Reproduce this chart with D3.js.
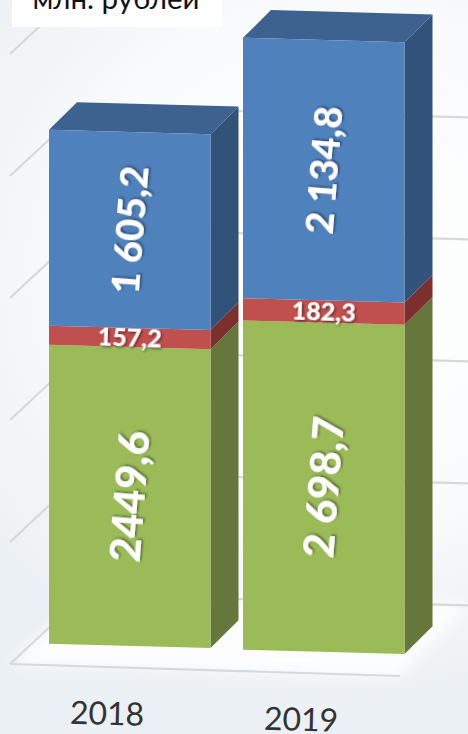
<!DOCTYPE html>
<html>
<head>
<meta charset="utf-8">
<script src="https://cdn.jsdelivr.net/npm/d3@7"></script>
<style>
html,body{margin:0;padding:0;background:#fff;overflow:hidden}
svg{display:block}
text{font-family:Lato,"Open Sans",sans-serif}
</style>
</head>
<body>
<svg id="c" width="468" height="734"></svg>
<script>
const years = ["2018", "2019"];
const green = [2449.6, 2698.7];
const red = [157.2, 182.3];
const blue = [1605.2, 2134.8];
const greenLabels = ["2449,6", "2 698,7"];
const redLabels = ["157,2", "182,3"];
const blueLabels = ["1 605,2", "2 134,8"];
const gridValues = [0, 1000, 2000, 3000, 4000, 5000];
const unitLabel = "млн. рублей";

const W = 468, H = 734;
const svg = d3.select("#c");
const defs = svg.append("defs");

const rg = defs.append("radialGradient").attr("id", "bg")
  .attr("gradientUnits", "userSpaceOnUse")
  .attr("cx", 330).attr("cy", 270).attr("r", 450);
rg.append("stop").attr("offset", 0).attr("stop-color", "#ffffff");
rg.append("stop").attr("offset", 0.5).attr("stop-color", "#fbfcfd");
rg.append("stop").attr("offset", 1).attr("stop-color", "#ebf0f4");

const blur = defs.append("filter").attr("id", "soft")
  .attr("x", "-20%").attr("y", "-20%").attr("width", "140%").attr("height", "140%");
blur.append("feGaussianBlur").attr("stdDeviation", 7);

const sh = defs.append("filter").attr("id", "shadow")
  .attr("x", "-20%").attr("y", "-20%").attr("width", "140%").attr("height", "140%");
sh.append("feDropShadow").attr("dx", 1.5).attr("dy", 1.5).attr("stdDeviation", 1)
  .attr("flood-color", "#000").attr("flood-opacity", 0.45);

svg.append("rect").attr("width", W).attr("height", H).attr("fill", "url(#bg)");

// scales
const h = d3.scaleLinear().domain([0, 1000]).range([0, 122]);
const x = d3.scaleBand().domain(years).range([49, 404.5]).paddingInner(0.1675).paddingOuter(0);
const base = d3.scaleLinear().domain([49, 243]).range([643.7, 649.7]);
const slope = 0.027, dX = 28, dY = -27.7;

// floor / walls
const wallX0 = 10, wallX1 = 84, wallY0 = 664, wallDy = -69, backSlope = 0.027, floorEndX = 400, floorEndY = 676;
const pts = a => a.map(p => p.join(",")).join(" ");

svg.append("polygon")
  .attr("points", pts([[wallX0, wallY0], [wallX1, wallY0 + wallDy], [468, 605], [floorEndX, floorEndY]]))
  .attr("fill", "#fff").attr("opacity", 0.9).attr("filter", "url(#soft)");

const grid = svg.append("g").attr("fill", "none").attr("stroke", "#d8d8d8").attr("stroke-width", 2.2);
grid.selectAll("polyline.g").data(gridValues).join("polyline").attr("class", "g")
  .attr("points", v => {
    const yL = wallY0 - h(v), yB = yL + wallDy;
    return pts([[wallX0, yL], [wallX1, yB], [W, yB + (W - wallX1) * backSlope]]);
  });
grid.append("line").attr("x1", wallX0).attr("y1", wallY0).attr("x2", floorEndX).attr("y2", floorEndY);

// stacked data
const rows = years.map((y, i) => ({ y, segs: [
  { v: green[i], front: "#9bbb59", side: "#65773a", top: "#7d9647", label: greenLabels[i], size: 42 },
  { v: red[i], front: "#c0504d", side: "#7d2f2d", top: "#99403e", label: redLabels[i], size: 25 },
  { v: blue[i], front: "#4f81bd", side: "#325379", top: "#3d628f", label: blueLabels[i], size: 38 }
]}));
rows.forEach(r => { let c = 0; r.segs.forEach(s => { s.a = c; c += s.v; s.b = c; }); });

const bars = svg.append("g");
const bar = bars.selectAll("g.bar").data(rows).join("g").attr("class", "bar");

bar.each(function (r) {
  const g = d3.select(this);
  const x0 = x(r.y), x1 = x0 + x.bandwidth();
  const b0 = base(x0), b1 = b0 + (x1 - x0) * slope;
  const top = r.segs[r.segs.length - 1];
  // side faces
  g.selectAll("polygon.side").data(r.segs).join("polygon").attr("class", "side")
    .attr("fill", s => s.side)
    .attr("points", s => pts([
      [x1, b1 - h(s.a)], [x1 + dX, b1 - h(s.a) + dY],
      [x1 + dX, b1 - h(s.b) + dY], [x1, b1 - h(s.b)]]));
  // top face
  g.append("polygon").attr("fill", top.top)
    .attr("points", pts([
      [x0, b0 - h(top.b)], [x0 + dX, b0 - h(top.b) + dY],
      [x1 + dX, b1 - h(top.b) + dY], [x1, b1 - h(top.b)]]));
  // front faces
  g.selectAll("polygon.front").data(r.segs).join("polygon").attr("class", "front")
    .attr("fill", s => s.front)
    .attr("points", s => pts([
      [x0, b0 - h(s.a)], [x1, b1 - h(s.a)],
      [x1, b1 - h(s.b)], [x0, b0 - h(s.b)]]));
  // labels
  g.selectAll("text").data(r.segs).join("text")
    .attr("text-anchor", "middle").attr("dy", "0.36em")
    .attr("fill", "#fff").attr("font-weight", 900)
    .attr("font-size", s => s.size)
    .attr("filter", "url(#shadow)")
    .attr("transform", s => {
      const cx = (x0 + x1) / 2, cy = (b0 + b1) / 2 - h((s.a + s.b) / 2);
      const rot = s.size > 30 ? -85.5 : 2;
      return `translate(${cx},${cy}) rotate(${rot})`;
    })
    .text(s => s.label);
});

// category labels
svg.selectAll("text.year").data(years).join("text").attr("class", "year")
  .attr("text-anchor", "middle").attr("font-size", 32).attr("fill", "#333")
  .attr("transform", d => {
    const cx = x(d) + x.bandwidth() / 2 - 23;
    return `translate(${cx},${base(x(d)) + 81}) rotate(1.5)`;
  })
  .text(d => d);

// unit box
svg.append("rect").attr("x", 12).attr("y", -2).attr("width", 210).attr("height", 29).attr("fill", "#fff");
svg.append("text").attr("x", 116).attr("y", 9).attr("text-anchor", "middle")
  .attr("font-size", 29.5).attr("fill", "#111").text(unitLabel);
</script>
</body>
</html>
